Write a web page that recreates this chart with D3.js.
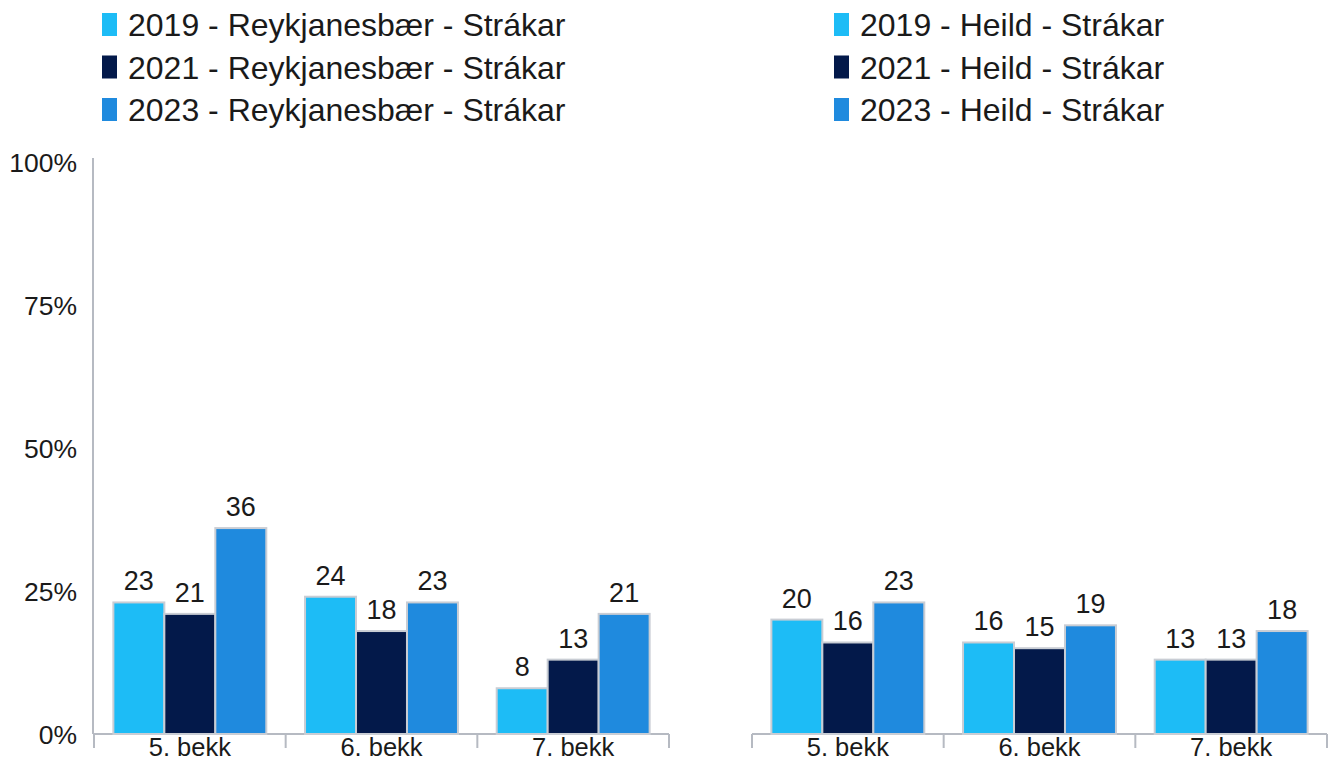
<!DOCTYPE html>
<html>
<head>
<meta charset="utf-8">
<script src="https://cdn.jsdelivr.net/npm/d3@7"></script>
<style>
  body { margin: 0; background: #fff; }
  svg text { font-family: "Liberation Sans", Arial, sans-serif; fill: #1a1a1a; }
</style>
</head>
<body>
<main></main>
<script>
// data
const categories = ['5. bekk', '6. bekk', '7. bekk'];
const years = ['2019', '2021', '2023'];
const colors = ['#1dbcf6', '#03194a', '#1f8ade'];
const yTicks = [0, 25, 50, 75, 100];

const reykjanesbaer = [
    [23, 24, 8],   // 2019
    [21, 18, 13],  // 2021
    [36, 23, 21]   // 2023
];
const heild = [
    [20, 16, 13],
    [16, 15, 13],
    [23, 19, 18]
];
const legendLeft = years.map(y => y + ' - Reykjanesbær - Strákar');
const legendRight = years.map(y => y + ' - Heild - Strákar');

!function(){
    var W = 1340, H = 762;
    var top = 162, bottom = 734;

    let svg = d3.select('main').append('svg')
        .attr('width', W)
        .attr('height', H);

    let yScale = d3.scaleLinear().domain([0, 100]).range([bottom, top]);

    // y axis, only on the left panel
    svg.append('line')
        .attr('x1', 93).attr('x2', 93)
        .attr('y1', 158).attr('y2', bottom)
        .attr('stroke', '#b6bac2').attr('stroke-width', 2);

    svg.selectAll('.ytick').data(yTicks).enter().append('text')
        .attr('class', 'ytick')
        .attr('x', 77)
        .attr('y', d => yScale(d) + 10)
        .attr('text-anchor', 'end')
        .style('font-size', '26.5px')
        .text(d => d + '%');

    const panel = (x0, x1, data, legend, lx) => {
        let xScale = d3.scaleBand().domain(categories).range([x0, x1]).padding(0);
        let inner = d3.scaleBand().domain(years).range([0, xScale.bandwidth()]).paddingInner(0).paddingOuter(0.38);

        let g = svg.append('g');
        g.append('line')
            .attr('x1', x0).attr('x2', x1)
            .attr('y1', bottom).attr('y2', bottom)
            .attr('stroke', '#b6bac2').attr('stroke-width', 2);
        let edges = categories.map(c => xScale(c)).concat([x1]);
        g.selectAll('.tk').data(edges).enter().append('line')
            .attr('x1', d => d).attr('x2', d => d)
            .attr('y1', bottom).attr('y2', bottom + 14)
            .attr('stroke', '#b6bac2').attr('stroke-width', 2);
        g.selectAll('.cat').data(categories).enter().append('text')
            .attr('x', d => xScale(d) + xScale.bandwidth() / 2)
            .attr('y', 756)
            .attr('text-anchor', 'middle')
            .style('font-size', '25.5px')
            .text(d => d);

        years.forEach((yr, i) => {
            let vals = data[i];
            g.selectAll('.bar' + i).data(categories).enter().append('rect')
                .attr('x', c => xScale(c) + inner(yr))
                .attr('y', (c, j) => yScale(vals[j]))
                .attr('width', inner.bandwidth())
                .attr('height', (c, j) => bottom - yScale(vals[j]))
                .attr('fill', colors[i])
                .attr('stroke', '#c9cdd4')
                .attr('stroke-width', 2);
            g.selectAll('.lbl' + i).data(categories).enter().append('text')
                .attr('x', c => xScale(c) + inner(yr) + inner.bandwidth() / 2)
                .attr('y', (c, j) => yScale(vals[j]) - 12)
                .attr('text-anchor', 'middle')
                .style('font-size', '27px')
                .text((c, j) => vals[j]);
        });

        // legend
        legend.forEach((t, i) => {
            let y = 13 + i * 42.5;
            svg.append('rect')
                .attr('x', lx).attr('y', y)
                .attr('width', 15).attr('height', 23)
                .attr('fill', colors[i]);
            svg.append('text')
                .attr('x', lx + 26).attr('y', y + 23)
                .style('font-size', '32px')
                .text(t);
        });
    };

    panel(94, 669, reykjanesbaer, legendLeft, 102);
    panel(752, 1327, heild, legendRight, 834);
}();
</script>
</body>
</html>
